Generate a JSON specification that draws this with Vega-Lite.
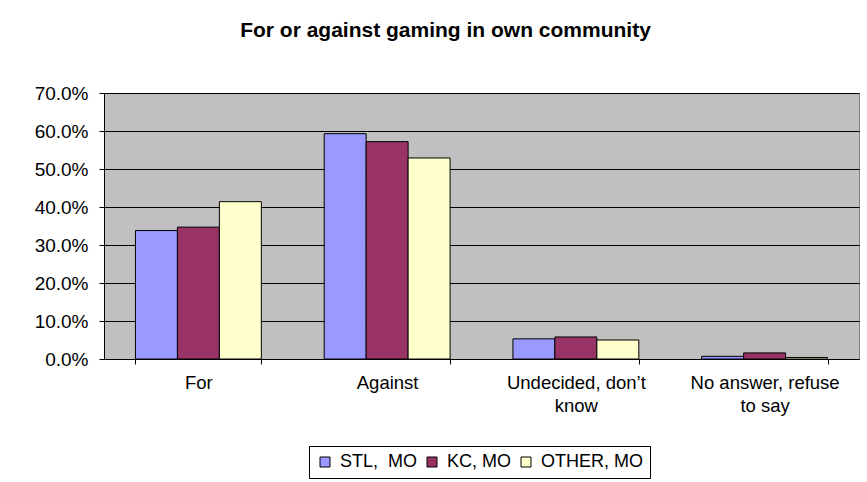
{
  "$schema": "https://vega.github.io/schema/vega-lite/v6.json",
  "width": 755,
  "height": 266,
  "autosize": {"type": "none"},
  "padding": {"left": 104, "top": 93, "right": 8, "bottom": 123},
  "background": "white",
  "title": {
    "text": "For or against gaming in own community",
    "font": "Liberation Sans",
    "fontSize": 21,
    "fontWeight": "bold",
    "color": "black",
    "anchor": "middle",
    "baseline": "alphabetic",
    "offset": 26,
    "dx": -36
  },
  "data": {
    "values": [
      {"answer": "For", "region": "STL,\u00a0 MO", "share": 0.338},
      {"answer": "For", "region": "KC, MO", "share": 0.347},
      {"answer": "For", "region": "OTHER, MO", "share": 0.414},
      {"answer": "Against", "region": "STL,\u00a0 MO", "share": 0.593},
      {"answer": "Against", "region": "KC, MO", "share": 0.572},
      {"answer": "Against", "region": "OTHER, MO", "share": 0.529},
      {"answer": "Undecided, don’t know", "region": "STL,\u00a0 MO", "share": 0.053},
      {"answer": "Undecided, don’t know", "region": "KC, MO", "share": 0.058},
      {"answer": "Undecided, don’t know", "region": "OTHER, MO", "share": 0.050},
      {"answer": "No answer, refuse to say", "region": "STL,\u00a0 MO", "share": 0.007},
      {"answer": "No answer, refuse to say", "region": "KC, MO", "share": 0.016},
      {"answer": "No answer, refuse to say", "region": "OTHER, MO", "share": 0.004}
    ]
  },
  "mark": {"type": "bar", "stroke": "black", "strokeWidth": 1},
  "encoding": {
    "x": {
      "field": "answer",
      "type": "nominal",
      "sort": ["For", "Against", "Undecided, don’t know", "No answer, refuse to say"],
      "scale": {"paddingInner": 0.333, "paddingOuter": 0.1667},
      "axis": {
        "title": null,
        "labelAngle": 0,
        "labelFont": "Liberation Sans",
        "labelFontSize": 18.5,
        "labelColor": "black",
        "labelPadding": 9,
        "labelLineHeight": 23,
        "labelExpr": "datum.value == 'Undecided, don’t know' ? ['Undecided, don’t', 'know'] : datum.value == 'No answer, refuse to say' ? ['No answer, refuse', 'to say'] : datum.label",
        "domainColor": "black",
        "tickColor": "black",
        "tickSize": 5,
        "tickBand": "extent",
        "grid": false
      }
    },
    "xOffset": {
      "field": "region",
      "type": "nominal",
      "sort": ["STL,\u00a0 MO", "KC, MO", "OTHER, MO"],
      "scale": {"paddingInner": 0, "paddingOuter": 0}
    },
    "y": {
      "field": "share",
      "type": "quantitative",
      "scale": {"domain": [0, 0.7], "nice": false},
      "axis": {
        "title": null,
        "values": [0, 0.1, 0.2, 0.3, 0.4, 0.5, 0.6, 0.7],
        "format": ".1%",
        "labelFont": "Liberation Sans",
        "labelFontSize": 19,
        "labelColor": "black",
        "labelPadding": 11,
        "domainColor": "black",
        "tickColor": "black",
        "tickSize": 5,
        "grid": true,
        "gridColor": "black",
        "gridOpacity": 1,
        "gridWidth": 1
      }
    },
    "color": {
      "field": "region",
      "type": "nominal",
      "sort": ["STL,\u00a0 MO", "KC, MO", "OTHER, MO"],
      "scale": {"range": ["#9999FF", "#993366", "#FFFFCC"]},
      "legend": {
        "title": null,
        "orient": "none",
        "direction": "horizontal",
        "legendX": 205,
        "legendY": 353,
        "padding": 7,
        "strokeColor": "black",
        "fillColor": "white",
        "symbolType": "square",
        "symbolSize": 100,
        "symbolStrokeColor": "black",
        "symbolStrokeWidth": 1,
        "symbolOpacity": 1,
        "labelFont": "Liberation Sans",
        "labelFontSize": 18,
        "labelColor": "black",
        "labelOffset": 6,
        "columnPadding": 5,
        "labelLimit": 200
      }
    }
  },
  "config": {
    "view": {"fill": "#C0C0C0", "stroke": "#808080", "strokeWidth": 1},
    "bar": {"opacity": 1}
  }
}
